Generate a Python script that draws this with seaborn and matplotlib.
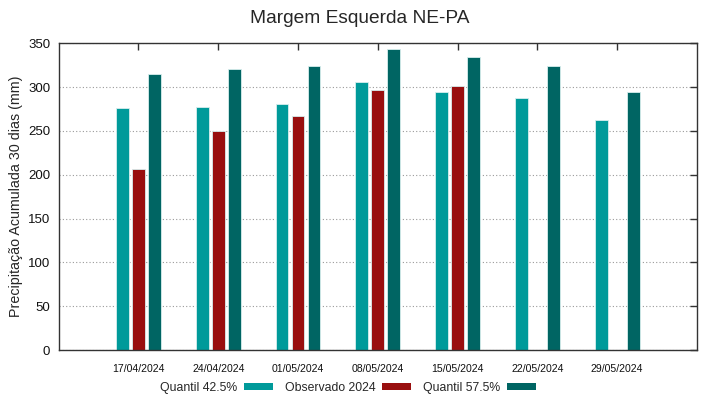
import pandas as pd
import numpy as np
import matplotlib
matplotlib.use('Agg')
import matplotlib.pyplot as plt
from matplotlib.patches import Patch
import seaborn as sns

datas = ['17/04/2024', '24/04/2024', '01/05/2024', '08/05/2024',
         '15/05/2024', '22/05/2024', '29/05/2024']
q425 = [276, 277, 281, 306, 294, 288, 262]
obs2024 = [207, 250, 267, 297, 301, np.nan, np.nan]
q575 = [315, 321, 324, 344, 334, 324, 294]

series = ['Quantil 42.5%', 'Observado 2024', 'Quantil 57.5%']
cores = ['#009a9a', '#990f0f', '#006563']

df = pd.DataFrame({
    'data': datas * 3,
    'serie': [series[0]] * 7 + [series[1]] * 7 + [series[2]] * 7,
    'valor': q425 + obs2024 + q575,
}).dropna()

sns.set_theme(style='white')
plt.rcParams['font.family'] = ['Liberation Sans', 'DejaVu Sans']

fig = plt.figure(figsize=(7.19, 3.99), dpi=100)
ax = fig.add_axes([0.0816, 0.1228, 0.8878, 0.7687])

sns.barplot(data=df, x='data', y='valor', hue='serie', order=datas,
            hue_order=series, palette=cores, width=0.6, gap=0.2,
            edgecolor='#d8eeee', linewidth=0.6, saturation=1,
            legend=False, ax=ax)

ax.set_xlim(-1, 7)
ax.set_ylim(0, 350)
ax.set_yticks(range(0, 351, 50))
ax.yaxis.grid(True, linestyle=(0, (1, 2)), color='#9a9a9a', linewidth=0.8)
ax.set_axisbelow(True)
for s in ax.spines.values():
    s.set_color('#333333')
    s.set_linewidth(1)
ax.tick_params(direction='in', top=True, right=True, length=5, width=1,
               color='#333333')
ax.tick_params(axis='y', labelsize=9.5, pad=6, labelcolor='#111111')
ax.tick_params(axis='x', labelsize=7.6, pad=10, labelcolor='#111111')
ax.set_xlabel('')
ax.set_ylabel('Precipitação Acumulada 30 dias (mm)', fontsize=10.3, labelpad=4)
fig.suptitle('Margem Esquerda NE-PA', fontsize=13.8, y=0.975)

# legenda: texto antes da cor, como no gnuplot
handles = [Patch(facecolor=c, edgecolor='none') for c in cores]
fig.legend(handles, series, loc='center', bbox_to_anchor=(0.484, 0.028),
           ncol=3, frameon=False, markerfirst=False, fontsize=8.8,
           handlelength=2.35, handleheight=0.5, columnspacing=1.0,
           handletextpad=0.55)

fig.savefig('out.png', dpi=100)
